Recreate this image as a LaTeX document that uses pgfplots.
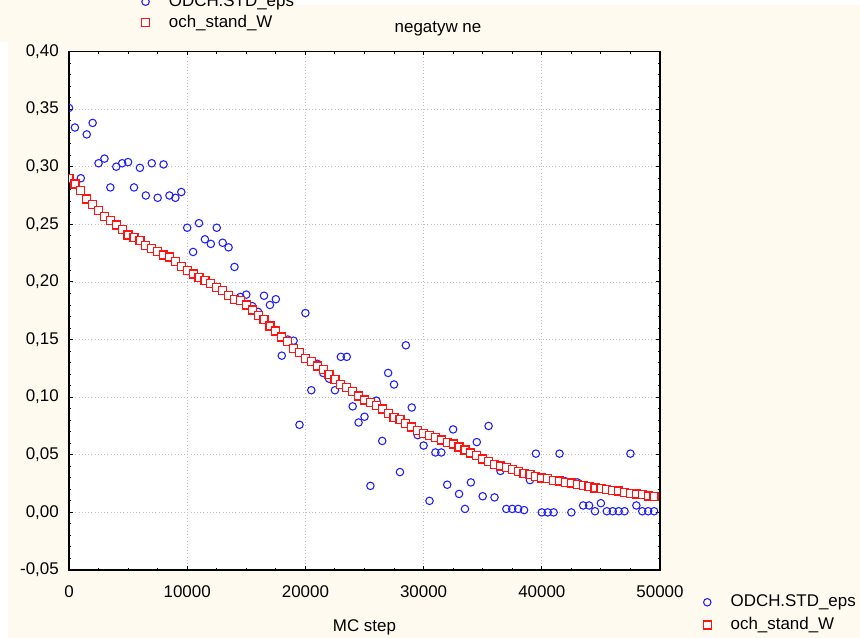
\documentclass[border=0pt]{standalone}
\usepackage{fontspec}
\setmainfont{Liberation Sans}
\usepackage{pgfplots}
\pgfplotsset{compat=1.18}
\usepackage{pgfplotstable}
\definecolor{cream}{RGB}{255,250,240}
\definecolor{mblue}{RGB}{30,30,255}
\definecolor{mred}{RGB}{255,20,20}

\pgfplotstableread{
x y
0 0.351
500 0.334
1000 0.290
1500 0.328
2000 0.338
2500 0.303
3000 0.307
3500 0.282
4000 0.300
4500 0.303
5000 0.304
5500 0.282
6000 0.299
6500 0.275
7000 0.303
7500 0.273
8000 0.302
8500 0.275
9000 0.273
9500 0.278
10000 0.247
10500 0.226
11000 0.251
11500 0.237
12000 0.233
12500 0.247
13000 0.234
13500 0.230
14000 0.213
14500 0.187
15000 0.189
15500 0.179
16000 0.174
16500 0.188
17000 0.180
17500 0.185
18000 0.136
18500 0.150
19000 0.149
19500 0.076
20000 0.173
20500 0.106
21000 0.129
21500 0.121
22000 0.116
22500 0.106
23000 0.135
23500 0.135
24000 0.092
24500 0.078
25000 0.083
25500 0.023
26000 0.097
26500 0.062
27000 0.121
27500 0.111
28000 0.035
28500 0.145
29000 0.091
29500 0.067
30000 0.058
30500 0.010
31000 0.052
31500 0.052
32000 0.024
32500 0.072
33000 0.016
33500 0.003
34000 0.026
34500 0.061
35000 0.014
35500 0.075
36000 0.013
36500 0.036
37000 0.003
37500 0.003
38000 0.003
38500 0.002
39000 0.028
39500 0.051
40000 0.000
40500 0.000
41000 0.000
41500 0.051
42000 0.027
42500 0.000
43000 0.026
43500 0.006
44000 0.006
44500 0.001
45000 0.008
45500 0.001
46000 0.001
46500 0.001
47000 0.001
47500 0.051
48000 0.006
48500 0.001
49000 0.001
49500 0.001
}\bluedata

\pgfplotstableread{
x y
0 0.290
500 0.285
1000 0.279
1500 0.272
2000 0.267
2500 0.262
3000 0.2566
3500 0.2535
4000 0.2494
4500 0.2453
5000 0.2407
5500 0.2384
6000 0.2358
6500 0.2314
7000 0.2288
7500 0.2266
8000 0.2234
8500 0.2216
9000 0.2175
9500 0.2132
10000 0.2097
10500 0.2069
11000 0.2036
11500 0.2010
12000 0.1988
12500 0.1953
13000 0.1924
13500 0.1880
14000 0.1849
14500 0.1837
15000 0.1800
15500 0.1756
16000 0.1710
16500 0.1675
17000 0.1617
17500 0.1574
18000 0.1522
18500 0.1484
19000 0.1420
19500 0.1389
20000 0.1337
20500 0.1307
21000 0.1270
21500 0.1241
22000 0.1198
22500 0.1154
23000 0.1108
23500 0.1085
24000 0.1047
24500 0.1010
25000 0.0975
25500 0.0955
26000 0.0925
26500 0.0897
27000 0.0856
27500 0.0825
28000 0.0804
28500 0.0773
29000 0.0741
29500 0.0714
30000 0.0686
30500 0.0668
31000 0.0648
31500 0.0628
32000 0.0604
32500 0.0593
33000 0.0567
33500 0.0541
34000 0.0515
34500 0.0491
35000 0.0463
35500 0.0443
36000 0.0419
36500 0.0402
37000 0.0387
37500 0.0373
38000 0.0352
38500 0.0335
39000 0.0326
39500 0.0309
40000 0.0298
40500 0.0292
41000 0.0280
41500 0.0272
42000 0.0262
42500 0.0255
43000 0.0245
43500 0.0232
44000 0.0226
44500 0.0212
45000 0.0204
45500 0.0196
46000 0.0190
46500 0.0185
47000 0.0176
47500 0.0162
48000 0.0159
48500 0.0153
49000 0.0143
49500 0.0141
}\reddata

\pgfplotsset{
  legend image code/.code={\draw[#1] plot coordinates {(0pt,0pt)};},
  bluestyle/.style={only marks, mark=o, mark size=2.8pt, mblue, line width=0.8pt},
  redstyle/.style={only marks, mark=square*, mark size=3.0pt, mark options={draw=mred, fill=white, line width=0.9pt}},
}

\begin{document}
\begin{tikzpicture}[font=\fontsize{12.7}{15}\selectfont]
\fill[white] (-51.75pt,-51pt) rectangle (593.25pt,427.5pt);
\fill[cream] (-51.75pt,427.5pt) -- (170.25pt,427.5pt) -- (170.25pt,423.75pt) -- (593.25pt,423.75pt) -- (593.25pt,-51pt) -- (-45.75pt,-51pt) -- (-45.75pt,396pt) -- (-51.75pt,396pt) -- cycle;
\useasboundingbox (-51.75pt,-51pt) rectangle (593.25pt,427.5pt);

\begin{axis}[
  at={(0pt,0pt)}, anchor=south west,
  width=443.25pt, height=388.9pt, scale only axis,
  xmin=0, xmax=50000, ymin=-0.05, ymax=0.4,
  xtick={0,10000,20000,30000,40000,50000},
  ytick={-0.05,0,0.05,0.1,0.15,0.2,0.25,0.3,0.35,0.4},
  minor x tick num=3, minor y tick num=4,
  tick align=inside,
  major tick length=3pt, minor tick length=1.8pt,
  every tick/.style={black, line width=0.7pt},
  axis line style={black, line width=1.4pt},
  grid=major,
  major grid style={gray!50, dotted, line width=0.6pt},
  axis background/.style={fill=white},
  scaled ticks=false,
  clip marker paths=true,
  /pgf/number format/assume math mode=true,
  tick label style={font=\fontsize{12.7}{15}\selectfont},
  xticklabel style={/pgf/number format/fixed, /pgf/number format/1000 sep={}, inner sep=0pt, anchor=north, yshift=-11.25pt},
  yticklabel style={/pgf/number format/fixed, /pgf/number format/fixed zerofill, /pgf/number format/precision=2, /pgf/number format/use comma, inner sep=0pt, anchor=east, xshift=-7.5pt},
  xlabel={MC step},
  xlabel style={at={(axis description cs:0.5,0)}, anchor=base, yshift=-45.75pt, font=\fontsize{12.7}{15}\selectfont},
  legend style={at={(axis description cs:1.0728,-0.0841)}, anchor=west, draw=none, fill=none, inner sep=0pt, row sep=5.5pt, column sep=14.5pt, nodes={inner sep=0pt, text height=9pt, text depth=2.5pt}, font=\fontsize{12.7}{15}\selectfont},
  legend cell align=left,
]
\addplot[bluestyle] table[x=x,y=y] {\bluedata};
\addlegendentry{ODCH.STD\_eps}
\addplot[redstyle] table[x=x,y=y] {\reddata};
\addlegendentry{och\_stand\_W}
\end{axis}

\begin{axis}[
  at={(0pt,0pt)}, anchor=south west,
  width=443.25pt, height=388.9pt, scale only axis,
  hide axis, xmin=0, xmax=1, ymin=0, ymax=1,
  legend style={at={(axis description cs:0.1223,1.0757)}, anchor=west, draw=none, fill=none, inner sep=0pt, row sep=4.25pt, column sep=14.5pt, nodes={inner sep=0pt, text height=9pt, text depth=2.5pt}, font=\fontsize{12.7}{15}\selectfont},
  legend cell align=left,
]
\addlegendimage{bluestyle}
\addlegendentry{ODCH.STD\_eps}
\addlegendimage{redstyle}
\addlegendentry{och\_stand\_W}
\end{axis}

\node[anchor=base] at (276.75pt,402.75pt) {negatyw ne};
\end{tikzpicture}
\end{document}
